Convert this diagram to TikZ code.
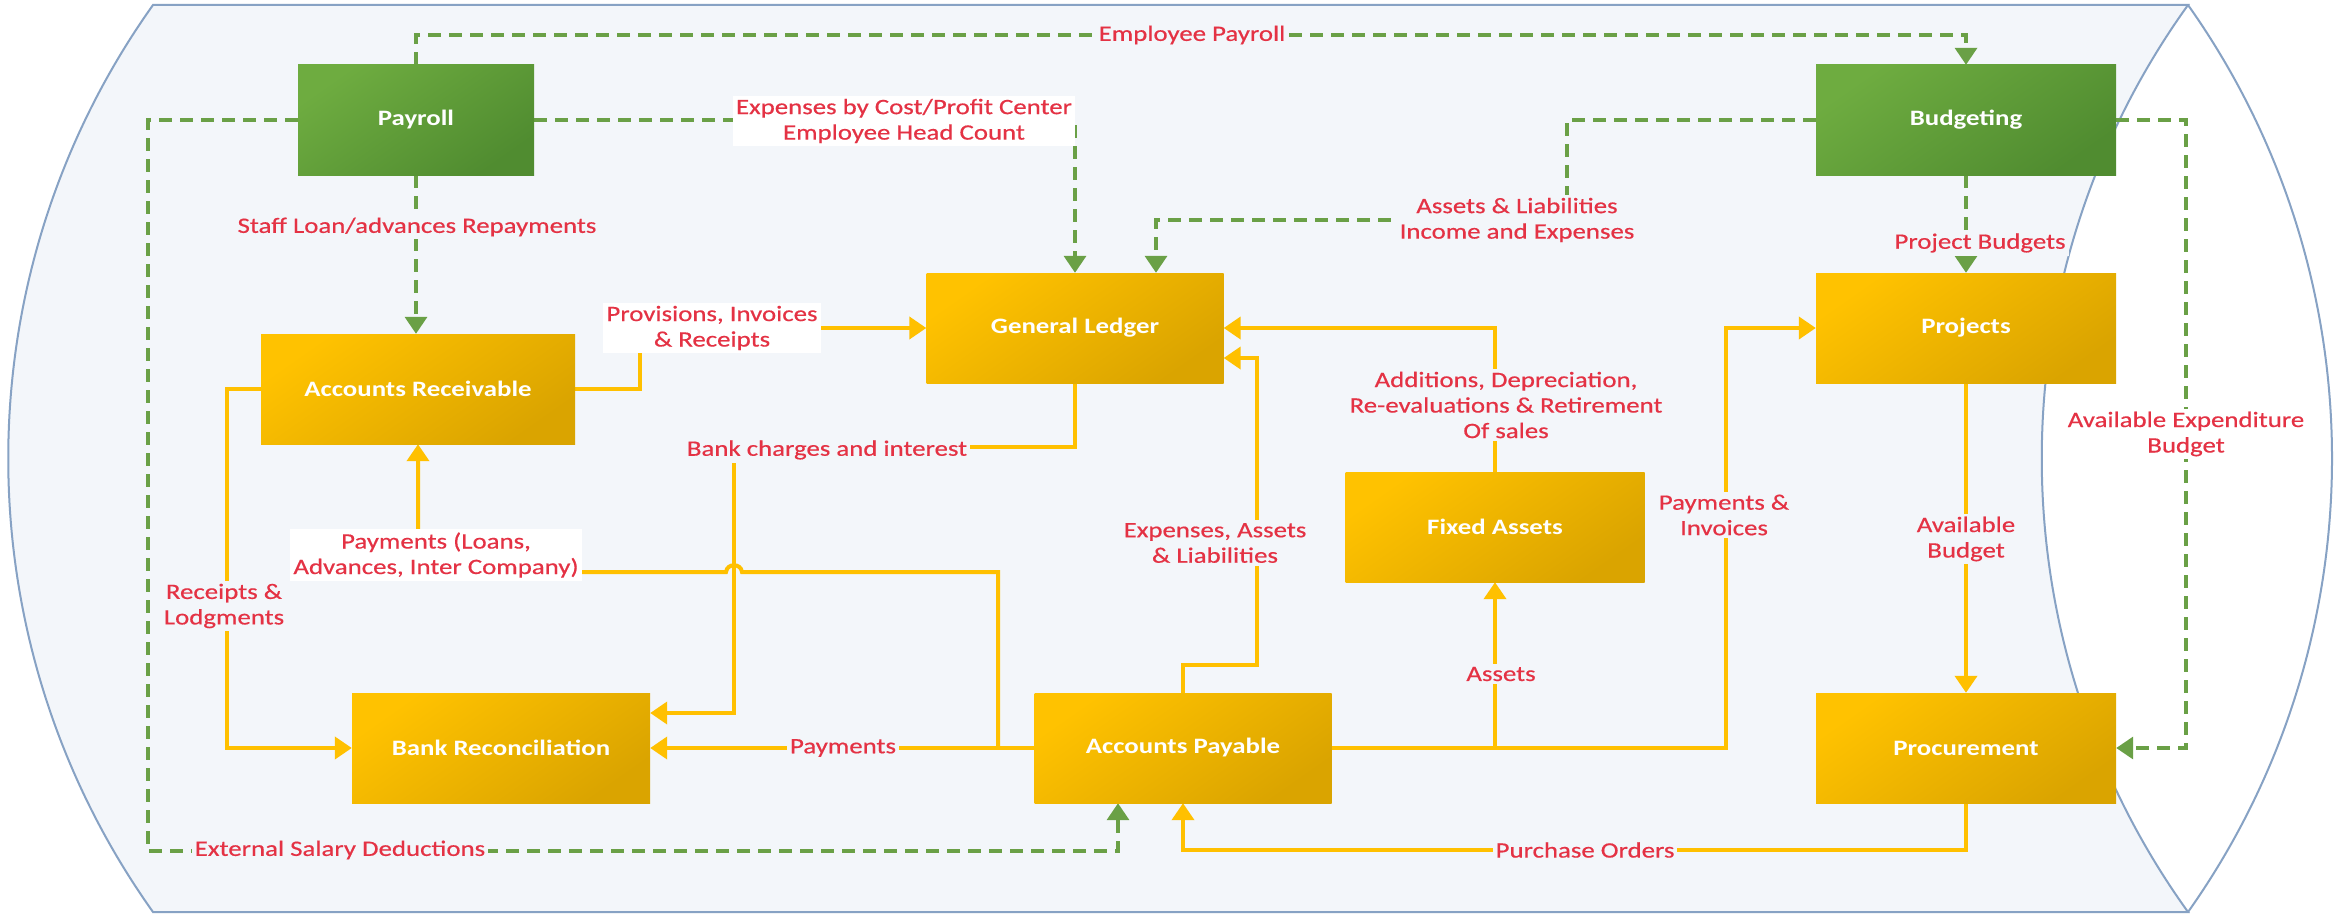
\documentclass[tikz,border=0pt]{standalone}
\usepackage{fontspec}
\setmainfont{Carlito}[FakeStretch=1.22]
\newfontfamily\lblfont{Carlito}[FakeStretch=1.22, FakeBold=0.5]
\usetikzlibrary{arrows.meta}
\pgfdeclarelayer{back}
\pgfdeclarelayer{lines}
\pgfsetlayers{back,lines,main}
\definecolor{bgfill}{RGB}{243,246,250}
\definecolor{bgline}{RGB}{135,162,196}
\definecolor{lnY}{RGB}{255,192,0}
\definecolor{lnG}{RGB}{106,160,70}
\definecolor{lblred}{RGB}{228,50,68}
\definecolor{gTop}{RGB}{110,172,64}
\definecolor{gBot}{RGB}{80,140,48}
\definecolor{yTop}{RGB}{255,194,0}
\definecolor{yBot}{RGB}{218,164,0}
\begin{document}
\begin{tikzpicture}[x=1pt,y=-1pt,
  boxw/.style={minimum width=#1, minimum height=110pt, inner sep=0pt, text=white,
    font=\fontsize{22}{26}\selectfont\bfseries},
  gbox/.style={boxw=#1, top color=gTop, bottom color=gBot, shading angle=35},
  ybox/.style={boxw=#1, top color=yTop, bottom color=yBot, shading angle=35},
  tip/.style={-{Triangle[width=22pt,length=17pt]}},
  yln/.style={draw=lnY, line width=4pt},
  yl/.style={yln, tip},
  gln/.style={draw=lnG, line width=3.5pt, dash pattern=on 13pt off 8pt},
  gl/.style={gln, tip},
  lbl/.style={text=lblred, font=\lblfont\fontsize{22}{25.5}\selectfont, align=center,
    inner sep=3pt, fill=bgfill},
  wlbl/.style={lbl, fill=white}]
\useasboundingbox (0,0) rectangle (2344,915);

% boxes
\node[gbox=236pt] (pay) at (416,120) {Payroll};
\node[gbox=300pt] (bud) at (1966,120) {Budgeting};
\node[ybox=297pt] (gl) at (1075,328) {General Ledger};
\node[ybox=314pt] (ar) at (418,389) {Accounts Receivable};
\node[ybox=300pt] (prj) at (1966,328) {Projects};
\node[ybox=299pt] (fa) at (1495,527) {Fixed Assets};
\node[ybox=298pt] (br) at (501,748) {Bank Reconciliation};
\node[ybox=297pt] (ap) at (1183,748) {Accounts Payable};
\node[ybox=300pt] (proc) at (1966,748) {Procurement};

% labels
\node[lbl] (lEmp) at (1192,35) {Employee Payroll};
\node[wlbl] (lExp) at (904,121) {Expenses by Cost/Profit Center\\Employee Head Count};
\node[lbl] (lAL) at (1517,220) {Assets \& Liabilities\\Income and Expenses};
\node[lbl] (lStaff) at (417,227) {Staff Loan/advances Repayments};
\node[lbl] (lExt) at (340,850) {External Salary Deductions};
\node[wlbl] (lAvExp) at (2186,434) {Available Expenditure\\Budget};
\node[lbl] (lPB) at (1980,243) {Project Budgets};
\node[wlbl] (lProv) at (712,328) {Provisions, Invoices\\\& Receipts};
\node[lbl] (lBank) at (827,450) {Bank charges and interest};
\node[lbl] (lPay) at (843,748) {Payments};
\node[wlbl] (lLoans) at (436,555) {Payments (Loans,\\Advances, Inter Company)};
\node[lbl] (lRec) at (224,606) {Receipts \&\\Lodgments};
\node[lbl] (lEA) at (1215,543) {Expenses, Assets\\\& Liabilities};
\node[lbl] (lAdd) at (1506,405) {Additions, Depreciation,\\Re-evaluations \& Retirement\\Of sales};
\node[lbl] (lPI) at (1724,515) {Payments \&\\Invoices};
\node[lbl] (lAs) at (1501,674) {Assets};
\node[lbl] (lAvB) at (1966,539) {Available\\Budget};
\node[lbl] (lPO) at (1585,850) {Purchase Orders};

\begin{pgfonlayer}{back}
\path[fill=white] (0,0) rectangle (2344,915);
\draw[bgline, line width=2pt, fill=bgfill] (153,5) -- (2188,5)
  .. controls (1993,276) and (1993,641) .. (2188,912) -- (153,912)
  .. controls (-40,641) and (-40,276) .. (153,5) -- cycle;
\draw[bgline, line width=2pt] (2188,5) .. controls (2380,276) and (2380,641) .. (2188,912);
\end{pgfonlayer}

\begin{pgfonlayer}{lines}
% green dashed connectors
\draw[gl] (pay.north) -- (416,35) -| (bud.north);
\draw[gl] (pay.east) -| (gl.north);
\draw[gl] (bud.west) -- (1567,120) -- (1567,220) -- (1156,220) -- (1156,0 |- gl.north);
\draw[gl] (pay.south) -- (pay.south |- ar.north);
\draw[gl] (pay.west) -- (148,120) -- (148,851) -- (1118,851) -- (1118,0 |- ap.south);
\draw[gl] (bud.east) -- (2186,120) |- (proc.east);
\draw[gl] (bud.south) -- (prj.north);
% yellow connectors
\coordinate (j1) at (998,748);
\coordinate (j2) at (1495,748);
\draw[yl] (ar.east) -- (640,389) -- (640,328) -- (gl.west);
\draw[yl] (gl.south) -- (1075,447) -- (734,447) -- (734,713) -- (0,713 -| br.east);
\draw[yl] (ap.west) -- (br.east);
\draw[yl] (j1) -- (998,572) -- (742,572) .. controls (741,563) and (727,563) .. (726,572) -- (418,572) -- (ar.south);
\draw[yl] (ar.west) -- (227,389) |- (br.west);
\draw[yl] (ap.north) -- (1183,665) -- (1257,665) -- (1257,358) -- (gl.east |- 0,358);
\draw[yl] (fa.north) |- (gl.east);
\draw[yl] (ap.east) -- (1726,748) |- (prj.west);
\draw[yl] (j2) -- (fa.south);
\draw[yl] (prj.south) -- (proc.north);
\draw[yl] (proc.south) -- (1966,850) -| (ap.south);
\end{pgfonlayer}
\end{tikzpicture}
\end{document}
